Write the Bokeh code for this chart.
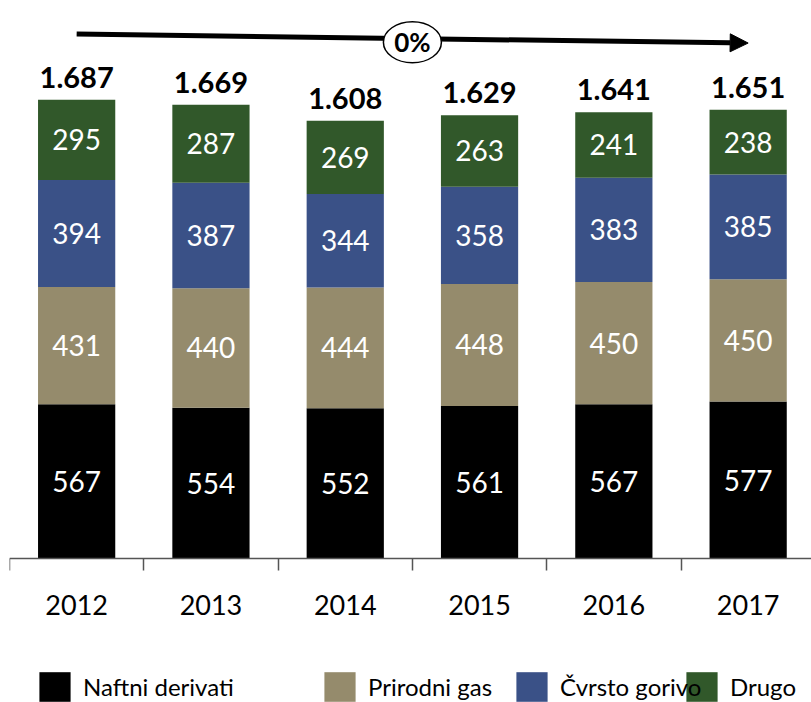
from bokeh.plotting import figure
from bokeh.models import (ColumnDataSource, Range1d, FixedTicker, Arrow, NormalHead,
                          Legend, LegendItem)
from bokeh.core.properties import value
from bokeh.embed import file_html
from bokeh.resources import INLINE

# ---- data ----
years = ["2012", "2013", "2014", "2015", "2016", "2017"]
naftni = [567, 554, 552, 561, 567, 577]
gas = [431, 440, 444, 448, 450, 450]
cvrsto = [394, 387, 344, 358, 383, 385]
drugo = [295, 287, 269, 263, 241, 238]
total_labels = ["1.687", "1.669", "1.608", "1.629", "1.641", "1.651"]
series_names = ["Naftni derivati", "Prirodni gas", "Čvrsto gorivo", "Drugo"]
change_label = "0%"

colors = ["#000000", "#958b6c", "#3a5187", "#31582a"]
FONT = "Lato"

idx = list(range(len(years)))
keys = ["naftni", "gas", "cvrsto", "drugo"]
series = [naftni, gas, cvrsto, drugo]

data = dict(x=idx)
for k, s in zip(keys, series):
    data[k] = s
totals = [sum(v) for v in zip(*series)]
data["total"] = totals
data["total_label"] = total_labels
src = ColumnDataSource(data)

# per-segment label sources
cum = [0] * len(idx)
seg_sources = []
for s in series:
    mids = [c + v / 2 for c, v in zip(cum, s)]
    seg_sources.append(ColumnDataSource(dict(x=idx, y=mids, t=[str(v) for v in s])))
    cum = [c + v for c, v in zip(cum, s)]

W, H = 811, 702
left_border = 9
unit_px = 134.3          # px per category
px_per_val = 0.272       # px per value unit
axis_py = 558            # page y of the value-axis zero line
frame_w = W - left_border

p = figure(width=W, height=H,
           x_range=Range1d(-0.5, -0.5 + frame_w / unit_px),
           y_range=Range1d(-(H - axis_py) / px_per_val, axis_py / px_per_val),
           output_backend="svg", toolbar_location=None,
           min_border_left=left_border, min_border_right=0,
           min_border_top=0, min_border_bottom=0)
p.outline_line_color = None
p.xgrid.visible = False
p.ygrid.visible = False
p.yaxis.visible = False
p.background_fill_color = "white"
p.border_fill_color = "white"

renderers = p.vbar_stack(keys, x="x", width=0.575, color=colors, source=src,
                         line_color=None)

for ss in seg_sources:
    p.text(x="x", y="y", text="t", source=ss, text_color="white",
           text_font=value(FONT), text_font_size="28px",
           text_align="center", text_baseline="middle")

p.text(x="x", y="total", text="total_label", source=src, text_color="black",
       text_font=value(FONT), text_font_size="29px", text_font_style="bold",
       text_align="center", text_baseline="bottom", y_offset=-12)

# trend arrow
arrow_y_start, arrow_y_end = 1928, 1895
p.add_layout(Arrow(end=NormalHead(size=18, fill_color="black", line_color="black"),
                   x_start=idx[0], y_start=arrow_y_start,
                   x_end=idx[-1], y_end=arrow_y_end,
                   line_width=5, line_color="black", level="underlay"))
mid_x = (idx[0] + idx[-1]) / 2
e = p.ellipse(x=[mid_x], y=[1898], width=58, height=41, width_units="screen",
              height_units="screen", fill_color="white", line_color="black", line_width=1.5)
e.level = "overlay"
t = p.text(x=[mid_x], y=[1898], text=[change_label], text_font=value(FONT),
           text_font_size="26px", text_font_style="bold", text_color="black",
           text_align="center", text_baseline="middle")
t.level = "overlay"

# x axis drawn at value 0 inside the frame
ax = p.xaxis[0]
ax.fixed_location = 0
ax.ticker = FixedTicker(ticks=idx, minor_ticks=[i - 0.5 for i in range(len(idx) + 1)])
ax.major_label_overrides = {i: y for i, y in zip(idx, years)}
ax.major_tick_out = 0
ax.major_tick_in = 0
ax.minor_tick_out = 12
ax.minor_tick_in = 0
ax.minor_tick_line_color = "#555555"
ax.minor_tick_line_width = 1.5
ax.axis_line_color = "#555555"
ax.axis_line_width = 1.5
ax.major_label_standoff = 24
ax.major_label_text_font = FONT
ax.major_label_text_font_size = "27px"
ax.major_label_text_color = "black"

# legends (individually placed); added right-to-left so each label sits above the next swatch
legend_x = [26, 311, 503, 673]
for name, r, lx in reversed(list(zip(series_names, renderers, legend_x))):
    lg = Legend(items=[LegendItem(label=name, renderers=[r])], location=(lx, -3),
                orientation="horizontal", glyph_width=39, glyph_height=37,
                label_text_font=FONT, label_text_font_size="24px",
                label_text_color="black", label_standoff=9,
                padding=0, margin=0, spacing=0, border_line_color=None,
                background_fill_alpha=0)
    p.add_layout(lg, "center")

open("out.html", "w").write(file_html(p, INLINE))
